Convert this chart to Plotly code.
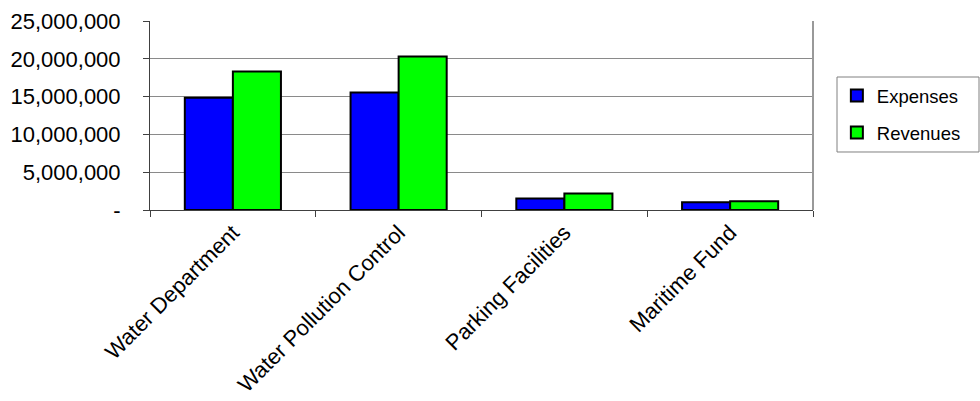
import plotly.graph_objects as go

categories = ["Water Department", "Water Pollution Control", "Parking Facilities", "Maritime Fund"]
expenses = [14860000, 15530000, 1510000, 1020000]
revenues = [18310000, 20300000, 2180000, 1150000]
ytickvals = [0, 5000000, 10000000, 15000000, 20000000, 25000000]
yticktext = ["-", "5,000,000", "10,000,000", "15,000,000", "20,000,000", "25,000,000"]

FONT = "Liberation Sans, Arial, sans-serif"

fig = go.Figure()
fig.add_trace(go.Bar(name="Expenses", x=categories, y=expenses,
                     marker=dict(color="#0000FF", line=dict(color="black", width=2)),
                     legendgroup="a"))
fig.add_trace(go.Bar(name="Revenues", x=categories, y=revenues,
                     marker=dict(color="#00FF00", line=dict(color="black", width=2)),
                     legendgroup="b"))

fig.update_layout(
    width=980, height=401,
    margin=dict(l=150, r=167, t=21, b=191),
    paper_bgcolor="white", plot_bgcolor="white",
    barmode="group", bargap=0.42, bargroupgap=0,
    font=dict(family=FONT, color="black", size=20),
    legend=dict(x=1.036, y=0.704, xanchor="left", yanchor="top",
                bgcolor="rgba(0,0,0,0)", borderwidth=0,
                font=dict(size=18.5, family=FONT),
                tracegroupgap=10, traceorder="grouped"),
    xaxis=dict(showline=True, linecolor="#404040", linewidth=1,
               ticks="outside", ticklen=6, tickcolor="#404040",
               tickson="boundaries", tickangle=-45, automargin=False,
               tickfont=dict(size=22), showgrid=False),
    yaxis=dict(range=[0, 25000000], tickvals=ytickvals, ticktext=yticktext,
               showline=True, linecolor="#404040", linewidth=1,
               ticks="outside", ticklen=6, tickcolor="#404040",
               ticklabelstandoff=18, automargin=False,
               gridcolor="#8a8a8a", gridwidth=1,
               tickfont=dict(size=22), zeroline=False),
    shapes=[
        dict(type="line", xref="paper", yref="paper", x0=1, x1=1, y0=0, y1=1,
             line=dict(color="#999999", width=2)),
        dict(type="rect", xref="paper", yref="paper", x0=1.0362, x1=1.2504,
             y0=0.3069, y1=0.7037, line=dict(color="#808080", width=1),
             fillcolor="rgba(0,0,0,0)"),
    ],
)

fig.write_html("out.html")
